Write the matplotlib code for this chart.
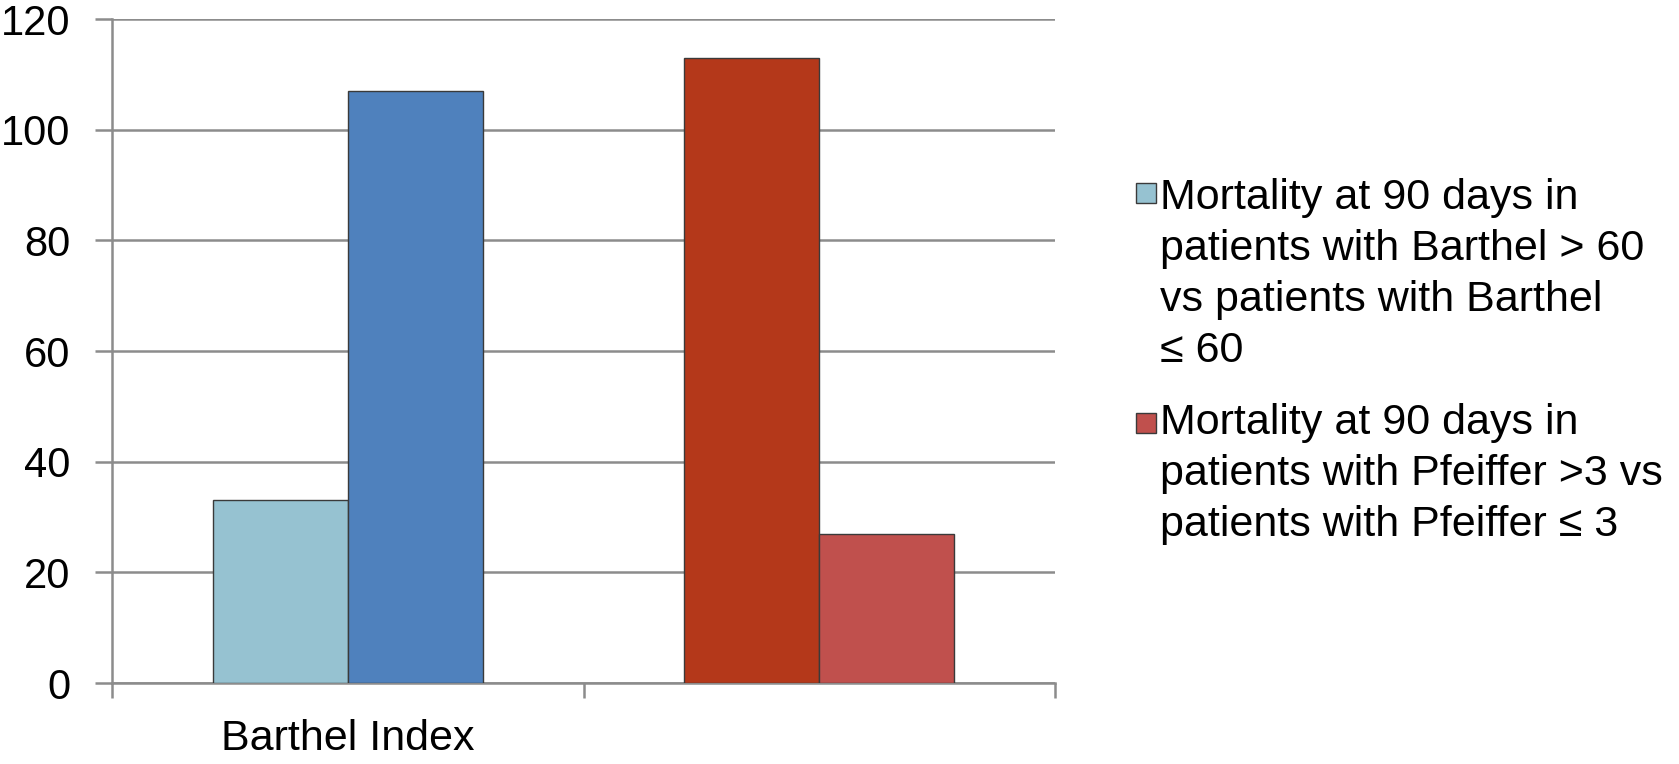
#bar chart of 90-day mortality by Barthel index and Pfeiffer score

import numpy as np
from matplotlib import pyplot as plt
from matplotlib.patches import Rectangle

#data
categories = ["Barthel Index", ""]
first_bars = [33, 113]
second_bars = [107, 27]
legend_labels = [
    "Mortality at 90 days in\npatients with Barthel > 60\nvs patients with Barthel\n\u2264 60",
    "Mortality at 90 days in\npatients with Pfeiffer >3 vs\npatients with Pfeiffer \u2264 3",
]
y_ticks = [0, 20, 40, 60, 80, 100, 120]

#styles
first_colors = ["#96C2D1", "#B4381A"]
second_colors = ["#4F81BD", "#C0504D"]
legend_colors = ["#96C2D1", "#C0504D"]
grid_color = "#8c8c8c"

plt.rcParams['font.family'] = ['Liberation Sans', 'DejaVu Sans']

fig = plt.figure(figsize=(16.79, 7.64), dpi=100)
ax = fig.add_axes([0.0667, 0.106, 0.5617, 0.869])

x = np.arange(len(categories)) + 0.5
w = 0.286
ax.bar(x - w/2, first_bars, width=w, color=first_colors, edgecolor="#3a3a3a", linewidth=1, zorder=3)
ax.bar(x + w/2, second_bars, width=w, color=second_colors, edgecolor="#3a3a3a", linewidth=1, zorder=3)

ax.set_xlim(0, 2)
ax.set_ylim(0, 120)
ax.set_yticks(y_ticks)
ax.set_yticklabels([str(t) for t in y_ticks], fontsize=30)
ax.yaxis.grid(True, color=grid_color, linewidth=1.8, zorder=0)
ax.set_axisbelow(True)

#category boundaries as major ticks, names as minor ticks
ax.set_xticks([0, 1, 2])
ax.set_xticklabels([])
ax.set_xticks(x, minor=True)
ax.set_xticklabels(categories, minor=True, fontsize=31)
ax.tick_params(axis='x', which='minor', length=0, pad=26)
ax.tick_params(axis='x', which='major', length=11, width=1.8, color=grid_color, direction='out')
ax.tick_params(axis='y', length=12, width=1.8, color=grid_color, pad=18)

for s in ['top', 'right']:
    ax.spines[s].set_visible(False)
for s in ['left', 'bottom']:
    ax.spines[s].set_color(grid_color)
    ax.spines[s].set_linewidth(1.8)

#legend drawn by hand so the square sits on the first line
W, H = 1679, 764
legend_tops = [178, 403]
square_tops = [183, 413]
for top, sq, label, col in zip(legend_tops, square_tops, legend_labels, legend_colors):
    fig.patches.append(Rectangle((1136 / W, 1 - (sq + 20) / H), 20 / W, 20 / H,
                                 transform=fig.transFigure, facecolor=col,
                                 edgecolor="#3a3a3a", linewidth=1))
    fig.text(1160 / W, 1 - top / H, label, fontsize=31, va='top', ha='left', linespacing=1.36)

plt.savefig("out.png", dpi=100)
